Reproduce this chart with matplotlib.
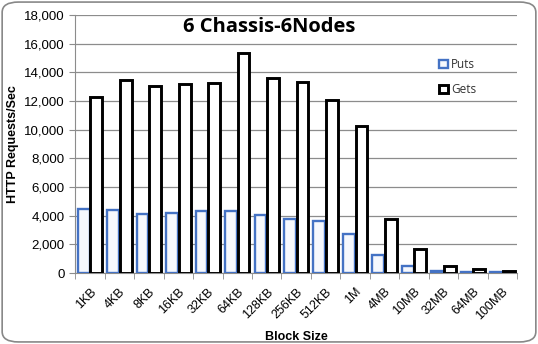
import matplotlib
matplotlib.use("Agg")
import matplotlib.pyplot as plt
import numpy as np
from matplotlib.patches import FancyBboxPatch
from matplotlib.ticker import FuncFormatter, MultipleLocator

block_sizes = ["1KB", "4KB", "8KB", "16KB", "32KB", "64KB", "128KB", "256KB",
               "512KB", "1M", "4MB", "10MB", "32MB", "64MB", "100MB"]
puts = [4450, 4380, 4140, 4190, 4350, 4350, 4070, 3800, 3640, 2700,
        1260, 490, 160, 100, 60]
gets = [12300, 13500, 13050, 13170, 13300, 15350, 13600, 13350, 12100, 10250,
        3780, 1680, 520, 260, 170]

plt.rcParams['font.family'] = ['Liberation Sans', 'DejaVu Sans']

fig = plt.figure(figsize=(5.38, 3.44), dpi=100)
ax = fig.add_axes([0.140, 0.206, 0.821, 0.750])

x = np.arange(len(block_sizes))
w = 0.40
ax.bar(x - 0.215, puts, w, color="#f6f8fd", edgecolor="#4472c4",
       linewidth=1.7, label="Puts", zorder=3)
ax.bar(x + 0.215, gets, w, color="white", edgecolor="black",
       linewidth=2.1, label="Gets", zorder=3)

ax.set_xlim(-0.5, len(block_sizes) - 0.5)
ax.set_ylim(0, 18000)
ax.yaxis.set_major_locator(MultipleLocator(2000))
ax.yaxis.set_major_formatter(FuncFormatter(lambda v, p: f"{int(v):,}"))
ax.grid(axis="y", color="#8c8c8c", linewidth=0.9, zorder=0)

ax.set_xticks(x)
ax.set_xticklabels(block_sizes, rotation=45, ha="right",
                   rotation_mode="anchor", fontsize=9)
ax.set_xticks(np.arange(len(block_sizes) + 1) - 0.5, minor=True)
ax.tick_params(axis="x", which="major", length=0, pad=9)
ax.tick_params(axis="x", which="minor", length=4, color="#8c8c8c")
ax.tick_params(axis="y", length=4, color="#8c8c8c", labelsize=9.5)

for s in ["top", "right"]:
    ax.spines[s].set_visible(False)
for s in ["left", "bottom"]:
    ax.spines[s].set_color("#8c8c8c")

ax.set_ylabel("HTTP Requests/Sec", fontsize=9, fontweight="bold", labelpad=4)
ax.set_xlabel("Block Size", fontsize=9, fontweight="bold", labelpad=6)

fig.text(0.5, 0.922, "6 Chassis-6Nodes", ha="center", va="center",
         fontsize=14.5, fontweight="bold", family=["Open Sans", "DejaVu Sans"])

leg = ax.legend(loc="upper left", bbox_to_anchor=(0.80, 0.875), frameon=False,
                fontsize=8.5, handlelength=0.7, handleheight=0.7,
                handletextpad=0.3, labelspacing=1.0,
                prop={"family": ["Open Sans", "DejaVu Sans"], "size": 8.5})
for t in leg.get_texts():
    t.set_color("#333333")

border = FancyBboxPatch((0.004, 0.006), 0.992, 0.988,
                        boxstyle="round,pad=0,rounding_size=0.03",
                        transform=fig.transFigure, facecolor="none",
                        edgecolor="#888888", linewidth=1.2)
fig.patches.append(border)

fig.savefig("out.png", dpi=100)
